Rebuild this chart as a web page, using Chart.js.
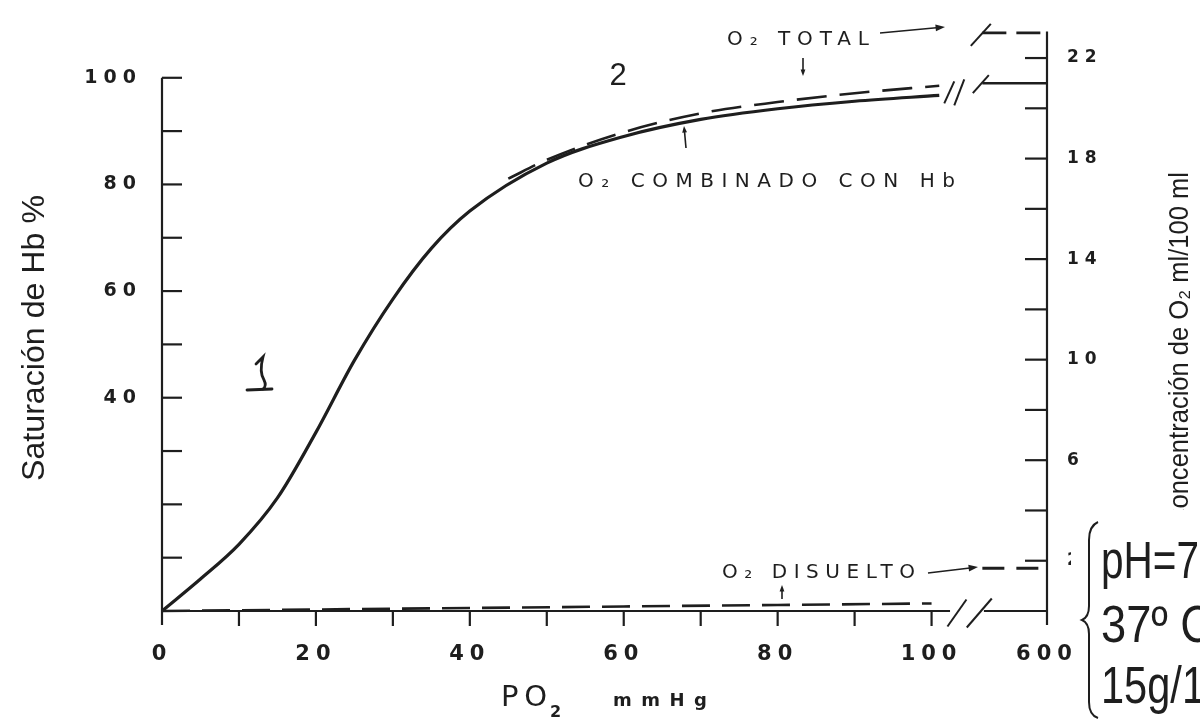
<!DOCTYPE html>
<html>
<head>
<meta charset="utf-8">
<title>Curva de disociación de la Hb</title>
<script src="https://cdn.jsdelivr.net/npm/chart.js@4.4.1/dist/chart.umd.min.js"></script>
<style>
  html, body { margin: 0; padding: 0; background: #fff; }
  #caja { width: 1200px; height: 721px; position: relative; }
</style>
</head>
<body>
<div id="caja"><canvas id="curva"></canvas></div>
<script>
// PO2 (mmHg) y saturacion de Hb (%)
const po2 = [0, 5, 10, 15, 20, 25, 30, 35, 40, 50, 60, 70, 80, 90, 101];
const satHb = [0, 6, 12.5, 21.2, 33.5, 47, 58.5, 68, 75, 84, 89, 92.2, 94.2, 95.6, 96.7];

// O2 total (ml/100 ml), eje derecho
const po2Total = [45, 50, 60, 70, 80, 90, 101];
const o2Total = [17.2, 17.95, 19.05, 19.8, 20.25, 20.6, 20.9];

// O2 disuelto (ml/100 ml)
const po2Dis = [0, 20, 40, 60, 80, 100];
const o2Dis = [0, 0.06, 0.12, 0.18, 0.24, 0.3];

// tramo despues del corte del eje (PO2 = 600 mmHg, en x = 115)
const corteX = [106.6, 115];
const totalCorte = [23.0, 23.0];
const combCorte = [21.0, 21.0];
const disCorte = [1.7, 1.7];

const xTicks = [0, 10, 20, 30, 40, 50, 60, 70, 80, 90, 100, 115];
const xLabels = { 0: '0', 20: '20', 40: '40', 60: '60', 80: '80', 100: '100', 115: '600' };
const yTicksIzq = [0, 10, 20, 30, 40, 50, 60, 70, 80, 90, 100];
const yLabelsIzq = [40, 60, 80, 100];
const yTicksDer = [0, 2, 4, 6, 8, 10, 12, 14, 16, 18, 20, 22];
const yLabelsDer = [2, 6, 10, 14, 18, 22];

const tinta = '#1e1e1e';

function puntos(xs, ys) { return xs.map((x, i) => ({ x: x, y: ys[i] })); }

function linea(ctx, x1, y1, x2, y2) {
  ctx.beginPath(); ctx.moveTo(x1, y1); ctx.lineTo(x2, y2); ctx.stroke();
}

function flecha(ctx, x1, y1, x2, y2, cab) {
  cab = cab || 8;
  const a = Math.atan2(y2 - y1, x2 - x1);
  linea(ctx, x1, y1, x2 - Math.cos(a) * cab * 0.6, y2 - Math.sin(a) * cab * 0.6);
  ctx.beginPath();
  ctx.moveTo(x2, y2);
  ctx.lineTo(x2 - cab * Math.cos(a - 0.35), y2 - cab * Math.sin(a - 0.35));
  ctx.lineTo(x2 - cab * Math.cos(a + 0.35), y2 - cab * Math.sin(a + 0.35));
  ctx.closePath(); ctx.fill();
}

function barra(ctx, xc, yc, w, h) {
  linea(ctx, xc - w / 2, yc + h / 2, xc + w / 2, yc - h / 2);
}

// texto con espaciado para ocupar un ancho dado
function textoAjustado(ctx, txt, x, y, ancho) {
  ctx.letterSpacing = '0px';
  const w = ctx.measureText(txt).width;
  const n = [...txt].length;
  const esp = n > 1 ? (ancho - w) / (n - 1) : 0;
  ctx.letterSpacing = esp.toFixed(2) + 'px';
  ctx.textAlign = 'left';
  ctx.fillText(txt, x, y);
  ctx.letterSpacing = '0px';
}

// texto estrechado (tipo condensada) para ocupar un ancho dado
function textoEstrecho(ctx, txt, x, y, ancho) {
  ctx.letterSpacing = '0px';
  const w = ctx.measureText(txt).width;
  ctx.save();
  ctx.translate(x, y);
  ctx.scale(ancho / w, 1);
  ctx.textAlign = 'left';
  ctx.fillText(txt, 0, 0);
  ctx.restore();
}

const ejes = {
  id: 'ejes',
  beforeDraw(chart) {
    chart.ctx.letterSpacing = '6px';
  },
  afterDatasetsDraw(chart) {
    const ctx = chart.ctx;
    const a = chart.chartArea;
    const xs = chart.scales.x, yi = chart.scales.y, yd = chart.scales.y2;
    ctx.save();
    ctx.letterSpacing = '0px';
    ctx.strokeStyle = tinta;
    ctx.fillStyle = tinta;
    ctx.lineWidth = 2.2;
    ctx.lineCap = 'butt';
    // eje izquierdo, de 0 a 100 %
    linea(ctx, a.left, yi.getPixelForValue(100), a.left, a.bottom + 14);
    yTicksIzq.forEach(v => {
      if (v === 0) return;
      const p = yi.getPixelForValue(v);
      linea(ctx, a.left, p, a.left + 20, p);
    });
    // eje derecho
    linea(ctx, a.right, a.top, a.right, a.bottom + 14);
    yTicksDer.forEach(v => {
      if (v === 0) return;
      const p = yd.getPixelForValue(v);
      linea(ctx, a.right - 22, p, a.right, p);
    });
    // eje x con corte
    linea(ctx, a.left, a.bottom, xs.getPixelForValue(102.4), a.bottom);
    linea(ctx, xs.getPixelForValue(106.8), a.bottom, a.right, a.bottom);
    xTicks.forEach(v => {
      if (v === 0 || v > 100) return;
      const p = xs.getPixelForValue(v);
      linea(ctx, p, a.bottom, p, a.bottom + 15);
    });
    ctx.lineWidth = 2;
    barra(ctx, xs.getPixelForValue(103.3), a.bottom + 2, 19, 27);
    barra(ctx, xs.getPixelForValue(106.2), a.bottom + 2, 25, 29);
    // cortes de las curvas
    const yFin = yi.getPixelForValue(satHb[satHb.length - 1]);
    barra(ctx, xs.getPixelForValue(102.3), yFin - 3, 10, 22);
    barra(ctx, xs.getPixelForValue(103.6), yFin - 3, 10, 26);
    barra(ctx, xs.getPixelForValue(106.4), yd.getPixelForValue(totalCorte[0]) + 2, 20, 22);
    barra(ctx, xs.getPixelForValue(106.4), yd.getPixelForValue(combCorte[0]) + 1, 16, 18);
    ctx.restore();
  },
  afterDraw(chart) {
    const ctx = chart.ctx;
    ctx.save();
    ctx.fillStyle = tinta;
    ctx.strokeStyle = tinta;
    ctx.textBaseline = 'alphabetic';

    // rotulos de las curvas
    ctx.font = '20px "DejaVu Sans"';
    textoAjustado(ctx, 'O₂ TOTAL', 727, 45, 142);
    textoAjustado(ctx, 'O₂ COMBINADO CON Hb', 578, 187, 377);
    textoAjustado(ctx, 'O₂ DISUELTO', 722, 578, 193);
    ctx.lineWidth = 1.6;
    flecha(ctx, 880, 33, 945, 27, 10);
    flecha(ctx, 803, 58, 803, 76, 7);
    flecha(ctx, 686, 148, 684, 126, 7);
    flecha(ctx, 928, 573, 978, 567, 10);
    flecha(ctx, 782, 599, 782, 585, 7);

    // numeros escritos a mano
    ctx.font = '31px "Liberation Sans"';
    ctx.textAlign = 'center';
    ctx.fillText('2', 618, 85);
    ctx.lineWidth = 2.8;
    ctx.lineCap = 'round';
    ctx.beginPath();
    ctx.moveTo(256, 364);
    ctx.lineTo(263, 357);
    ctx.quadraticCurveTo(259, 372, 264, 380);
    ctx.quadraticCurveTo(267, 386, 263, 389);
    ctx.stroke();
    linea(ctx, 247, 390, 272, 389);
    ctx.lineCap = 'butt';

    // titulos de los ejes
    ctx.font = '32px "Liberation Sans"';
    ctx.save();
    ctx.translate(44, 481);
    ctx.rotate(-Math.PI / 2);
    textoEstrecho(ctx, 'Saturación de Hb %', 0, 0, 286);
    ctx.restore();

    ctx.font = '28px "Liberation Sans"';
    ctx.save();
    ctx.translate(1188, 527);
    ctx.rotate(-Math.PI / 2);
    textoEstrecho(ctx, 'Concentración de O₂ ml/100 ml', 0, 0, 355);
    ctx.restore();

    ctx.font = '29px "DejaVu Sans"';
    textoAjustado(ctx, 'PO', 501, 706, 46);
    ctx.font = 'bold 16px "DejaVu Sans"';
    ctx.textAlign = 'left';
    ctx.fillText('2', 550, 717);
    ctx.font = 'bold 18px "DejaVu Sans"';
    textoAjustado(ctx, 'mmHg', 613, 706, 94);

    // recuadro de condiciones
    ctx.fillStyle = '#fff';
    ctx.fillRect(1071, 510, 129, 211);
    ctx.fillStyle = tinta;
    ctx.lineWidth = 2;
    ctx.beginPath();
    ctx.moveTo(1098, 522);
    ctx.quadraticCurveTo(1089, 526, 1089, 540);
    ctx.lineTo(1089, 606);
    ctx.quadraticCurveTo(1089, 617, 1082, 620);
    ctx.quadraticCurveTo(1089, 623, 1089, 634);
    ctx.lineTo(1089, 702);
    ctx.quadraticCurveTo(1089, 715, 1098, 718);
    ctx.stroke();
    ctx.font = '51px "Liberation Sans"';
    textoEstrecho(ctx, 'pH=7', 1101, 578, 98);
    textoEstrecho(ctx, '37º C', 1101, 642, 112);
    textoEstrecho(ctx, '15g/1', 1101, 703, 104);
    ctx.restore();
    ctx.letterSpacing = '6px';
  }
};

new Chart(document.getElementById('curva'), {
  type: 'line',
  data: {
    datasets: [
      { data: puntos(po2Dis, o2Dis), yAxisID: 'y2', borderColor: tinta, borderWidth: 2.6, borderDash: [28, 12], pointRadius: 0, clip: false },
      { data: puntos(corteX, disCorte), yAxisID: 'y2', borderColor: tinta, borderWidth: 3, borderDash: [22, 12], pointRadius: 0, clip: false },
      { data: puntos(po2Total, o2Total), yAxisID: 'y2', borderColor: tinta, borderWidth: 2.6, borderDash: [30, 13], pointRadius: 0, cubicInterpolationMode: 'monotone', clip: false },
      { data: puntos(corteX, totalCorte), yAxisID: 'y2', borderColor: tinta, borderWidth: 2.6, borderDash: [24, 10], pointRadius: 0, clip: false },
      { data: puntos(corteX, combCorte), yAxisID: 'y2', borderColor: tinta, borderWidth: 2.6, pointRadius: 0, clip: false },
      { data: puntos(po2, satHb), yAxisID: 'y', borderColor: tinta, borderWidth: 3.2, pointRadius: 0, cubicInterpolationMode: 'monotone', clip: false }
    ]
  },
  options: {
    responsive: true,
    maintainAspectRatio: false,
    animation: false,
    layout: { padding: { top: 23, left: 0, right: 0, bottom: 0 } },
    plugins: { legend: { display: false }, tooltip: { enabled: false } },
    scales: {
      x: {
        type: 'linear', min: 0, max: 115,
        grid: { display: false, drawTicks: false }, border: { display: false },
        afterBuildTicks: s => { s.ticks = xTicks.map(v => ({ value: v })); },
        afterFit: s => { s.height = 110; },
        ticks: {
          autoSkip: false, maxRotation: 0, minRotation: 0, padding: 31, color: tinta,
          font: { family: 'DejaVu Sans', weight: 'bold', size: 21 },
          callback: v => (xLabels[v] !== undefined ? xLabels[v] : '')
        }
      },
      y: {
        position: 'left', min: 0, max: 108.7,
        grid: { display: false, drawTicks: false }, border: { display: false },
        afterBuildTicks: s => { s.ticks = yTicksIzq.map(v => ({ value: v })); },
        afterFit: s => { s.width = 162; },
        ticks: {
          autoSkip: false, padding: 20, color: tinta, font: { family: 'DejaVu Sans', weight: 'bold', size: 19 },
          callback: v => (yLabelsIzq.includes(v) ? String(v) : '')
        }
      },
      y2: {
        position: 'right', min: 0, max: 23.06,
        grid: { display: false, drawTicks: false }, border: { display: false },
        afterBuildTicks: s => { s.ticks = yTicksDer.map(v => ({ value: v })); },
        afterFit: s => { s.width = 153; },
        ticks: {
          autoSkip: false, padding: 20, color: tinta, font: { family: 'DejaVu Sans', weight: 'bold', size: 17 },
          callback: v => (yLabelsDer.includes(v) ? String(v) : '')
        }
      }
    }
  },
  plugins: [ejes]
});
</script>
</body>
</html>
